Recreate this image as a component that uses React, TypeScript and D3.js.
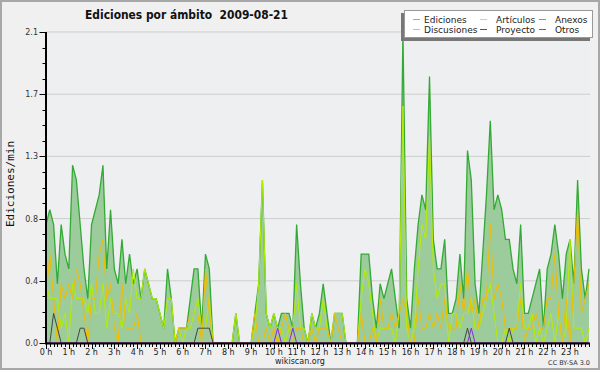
import React from "react";
import * as d3 from "d3";

const hourLabels = ["0 h","1 h","2 h","3 h","4 h","5 h","6 h","7 h","8 h","9 h","10 h","11 h","12 h","13 h","14 h","15 h","16 h","17 h","18 h","19 h","20 h","21 h","22 h","23 h"];

const ediciones = [
  0.8,0.9,0.8,0.4,0.8,0.6,0.5,1.2,1.1,0.8,0.5,0.3,
  0.8,0.9,1.0,1.2,0.5,0.9,0.5,0.4,0.7,0.4,0.6,0.4,
  0.5,0.3,0.5,0.4,0.3,0.3,0.2,0.1,0.5,0.3,0,0.1,
  0.1,0.1,0.3,0.5,0.5,0.1,0.6,0.5,0,0,0,0,
  0,0,0.2,0,0,0,0,0.2,0.4,1.1,0.2,0.1,
  0.2,0.1,0.2,0.2,0.2,0.1,0.8,0.4,0.1,0,0.2,0.1,
  0.2,0.4,0.2,0,0.2,0.2,0.2,0,0,0,0,0.6,
  0.6,0.6,0.3,0.1,0.4,0.3,0.4,0.5,0.3,0.1,2.1,0.3,
  0.1,0.5,0.8,1.0,0.9,1.8,0.7,0.5,0.5,0.7,0.2,0.2,
  0.3,0.6,0.3,1.3,1.1,0.4,0.2,0.6,1.0,1.5,0.9,1.0,
  0.9,0.7,0.7,0.5,0.4,0.8,0.2,0.2,0.3,0.4,0.5,0.1,
  0.5,0.6,0.8,0.6,0.3,0.6,0.7,0.4,1.1,0.5,0.3,0.5,
];

const articulos = [
  0.4,0.3,0.3,0.3,0.1,0.2,0,0.4,0.3,0.3,0.3,0.2,
  0.4,0.2,0.2,0.4,0.1,0.3,0.2,0.2,0.1,0.3,0.2,0.5,
  0.3,0.3,0.5,0.4,0.3,0.3,0.2,0.1,0.3,0.3,0,0.1,
  0,0.1,0.1,0.2,0.3,0.1,0.1,0.3,0,0,0,0,
  0,0,0.2,0,0,0,0,0.1,0.4,1.1,0.2,0.1,
  0.2,0.1,0.1,0,0.1,0.1,0.4,0.1,0.1,0,0.2,0.1,
  0.1,0.3,0.1,0,0.2,0.2,0.2,0,0,0,0,0.3,
  0.5,0.4,0.2,0,0.1,0.1,0.1,0.1,0,0.2,1.6,0.1,
  0,0.1,0.5,0.8,0.7,1.4,0.5,0.3,0.4,0.4,0,0.2,
  0.2,0.1,0.2,0.2,0.3,0.1,0.1,0.2,0.3,0.4,0.2,0,
  0,0.1,0,0.1,0.1,0.4,0.1,0.1,0.2,0,0.1,0,
  0.1,0.2,0,0.2,0,0.1,0.7,0.1,0.1,0.1,0,0.1,
];

const anexos = [
  0,0,0,0,0,0,0,0,0,0,0,0,
  0,0,0,0,0,0,0,0,0,0,0,0,
  0,0,0,0,0,0,0,0,0,0,0,0,
  0,0,0,0,0,0,0,0,0,0,0,0,
  0,0,0,0,0,0,0,0,0,0,0,0,
  0,0,0,0,0,0,0,0,0,0,0,0,
  0,0,0,0,0,0,0,0,0,0,0,0,
  0,0,0,0,0,0,0,0,0,0,0,0,
  0,0,0,0,0,0,0,0,0,0,0,0,
  0,0,0,0,0,0,0,0,0,0,0,0,
  0,0,0,0,0,0,0,0,0,0,0,0,
  0,0,0,0,0,0,0,0,0,0,0,0,
];

const discusiones = [
  0.3,0.6,0.3,0,0.4,0.3,0.4,0.3,0.5,0.4,0.2,0,
  0.3,0.3,0.6,0.7,0.3,0.4,0.1,0,0.4,0.1,0.1,0.1,
  0.2,0,0,0,0,0,0,0,0,0,0,0.1,
  0.1,0.1,0.2,0.2,0.2,0,0.5,0.2,0,0,0,0,
  0,0,0,0,0,0,0,0.2,0,0,0.1,0,
  0.1,0,0.1,0.2,0.1,0,0.1,0.1,0,0,0.1,0,
  0.1,0.1,0.1,0,0.2,0.1,0,0,0,0,0,0.2,
  0,0,0.1,0,0.3,0.1,0.1,0.2,0.1,0.2,0.3,0.2,
  0,0,0.3,0.1,0.1,0.2,0.1,0.2,0.1,0.3,0.1,0.1,
  0.1,0.4,0.2,0.5,0.2,0.3,0.1,0.3,0.3,0.8,0.3,0.4,
  0.3,0.1,0.1,0.1,0.1,0.3,0,0.1,0.1,0.2,0.1,0.1,
  0.3,0.3,0.6,0.2,0,0.3,0,0.4,0.9,0.2,0.3,0.4,
];

const proyecto = [
  0,0,0.2,0.1,0,0,0,0,0,0.1,0.1,0,
  0,0,0,0,0,0,0,0,0,0,0,0,
  0,0,0,0,0,0,0,0,0,0,0,0,
  0,0,0,0,0.1,0.1,0.1,0.1,0,0,0,0,
  0,0,0,0,0,0,0,0,0,0,0,0,
  0,0,0,0,0,0,0,0,0,0,0,0,
  0,0,0,0,0,0,0,0,0,0,0,0,
  0,0,0,0,0,0,0,0,0,0,0,0,
  0,0,0,0,0,0,0,0,0,0,0,0,
  0,0,0,0.1,0,0,0,0,0,0,0,0,
  0,0,0.1,0,0,0,0,0,0,0,0,0,
  0,0,0,0,0,0,0,0,0,0,0,0,
];

const otros = [
  0,0,0,0,0,0,0,0,0,0,0,0,
  0,0,0,0,0,0,0,0,0,0,0,0,
  0,0,0,0,0,0,0,0,0,0,0,0,
  0,0,0,0,0,0,0,0,0,0,0,0,
  0,0,0,0,0,0,0,0,0,0,0,0,
  0,0.1,0,0,0,0.1,0,0,0,0,0,0,
  0,0,0,0,0,0,0,0,0,0,0,0,
  0,0,0,0,0,0,0,0,0,0,0,0,
  0,0,0,0,0,0,0,0,0,0,0,0,
  0,0,0,0,0.1,0,0,0,0,0,0,0,
  0,0,0,0,0,0,0,0,0,0,0,0,
  0,0,0,0,0,0,0,0,0,0,0,0,
];

const yTicks = [0, 0.42, 0.84, 1.26, 1.68, 2.1];

const legendItems = [
  { name: "Ediciones", color: "#6fcf6f" },
  { name: "Artículos", color: "#c8f000" },
  { name: "Anexos", color: "#ff6a2a" },
  { name: "Discusiones", color: "#f6c800" },
  { name: "Proyecto", color: "#555555" },
  { name: "Otros", color: "#9933ff" },
];

export default function App() {
  const x = d3.scaleLinear().domain([0, 143]).range([46, 589]);
  const y = d3.scaleLinear().domain([0, 2.1]).range([343, 32]);
  const idx = d3.range(ediciones.length);
  const area = d3.area<number>().x((i) => x(i)).y0(y(0)).y1((i) => y(ediciones[i]));
  const lineOf = (arr: number[]) => d3.line<number>().x((i) => x(i)).y((i) => y(arr[i]))(idx) || "";
  const minorY = d3.range(0, 21).map((k) => k * 0.105);
  const font = "DejaVu Sans, sans-serif";

  const series = [
    { data: articulos, color: "#b6ee00" },
    { data: anexos, color: "#ff6a2a" },
    { data: discusiones, color: "#f2bd00" },
    { data: proyecto, color: "#444444" },
    { data: otros, color: "#8a2be2" },
  ];

  return (
    <svg width={600} height={370} style={{ position: "fixed", left: 0, top: 0 }} fontFamily={font}>
      <rect x={0} y={0} width={600} height={370} fill="#f0f0f0" />
      <rect x={1} y={1} width={598} height={368} fill="none" stroke="#a8a8a8" strokeWidth={2} />
      <rect x={46} y={32} width={544} height={311} fill="#eeeff1" />
      {yTicks.slice(1).map((v) => (
        <line key={v} x1={46} x2={590} y1={y(v)} y2={y(v)} stroke="#cdcdcd" strokeWidth={1} />
      ))}
      <path d={area(idx) || ""} fill="#9ccb9c" />
      <path d={lineOf(ediciones)} fill="none" stroke="#33aa33" strokeWidth={1.3} />
      {series.map((s, k) => (
        <path key={k} d={lineOf(s.data)} fill="none" stroke={s.color} strokeWidth={1} />
      ))}
      <line x1={46} x2={46} y1={32} y2={344} stroke="#000" strokeWidth={2} />
      <line x1={45} x2={590} y1={343.5} y2={343.5} stroke="#000" strokeWidth={2} />
      {minorY.map((v, k) => (
        <line key={k} x1={k % 4 === 0 ? 39.5 : 42.5} x2={46} y1={Math.round(y(v)) + 0.5} y2={Math.round(y(v)) + 0.5} stroke="#000" strokeWidth={1} />
      ))}
      {yTicks.map((v) => (
        <text key={v} x={38} y={y(v) + 3} fontSize={8} textAnchor="end" fill="#333">
          {v.toFixed(1)}
        </text>
      ))}
      {d3.range(0, 144).map((i) => (
        <line key={i} x1={Math.round(x(i)) + 0.5} x2={Math.round(x(i)) + 0.5} y1={344} y2={i % 6 === 0 ? 349 : 347} stroke="#000" strokeWidth={1} />
      ))}
      {hourLabels.map((h, k) => (
        <text key={h} x={x(k * 6)} y={355} fontSize={8} textAnchor="middle" fill="#222">
          {h}
        </text>
      ))}
      <text transform="translate(14,184) rotate(-90)" fontSize={11} textAnchor="middle" fontFamily="DejaVu Sans Mono, monospace" fill="#111">
        Ediciones/min
      </text>
      <text x={85} y={19} fontSize={12} fontWeight="bold" fill="#111" textLength={203} lengthAdjust="spacingAndGlyphs" style={{ whiteSpace: "pre" }}>
        {"Ediciones por ámbito  2009-08-21"}
      </text>
      <text x={300} y={364} fontSize={8} textAnchor="middle" fill="#222">wikiscan.org</text>
      <text x={590} y={365} fontSize={6.5} textAnchor="end" fill="#333">CC BY-SA 3.0</text>
      <rect x={401} y={13} width={189} height={28} fill="#777" />
      <rect x={404.5} y={10.5} width={188} height={27} fill="#fff" stroke="#999" strokeWidth={1} />
      {legendItems.map((it, k) => {
        const col = k % 3;
        const row = Math.floor(k / 3);
        const lx = [413, 480, 539][col];
        const tx = [424, 496, 555][col];
        const cy = 19.5 + row * 10;
        return (
          <g key={it.name}>
            <line x1={lx} x2={lx + 7} y1={cy} y2={cy} stroke={it.color} strokeWidth={1} />
            <text x={tx} y={cy + 3} fontSize={9} fill="#222">{it.name}</text>
          </g>
        );
      })}
    </svg>
  );
}
